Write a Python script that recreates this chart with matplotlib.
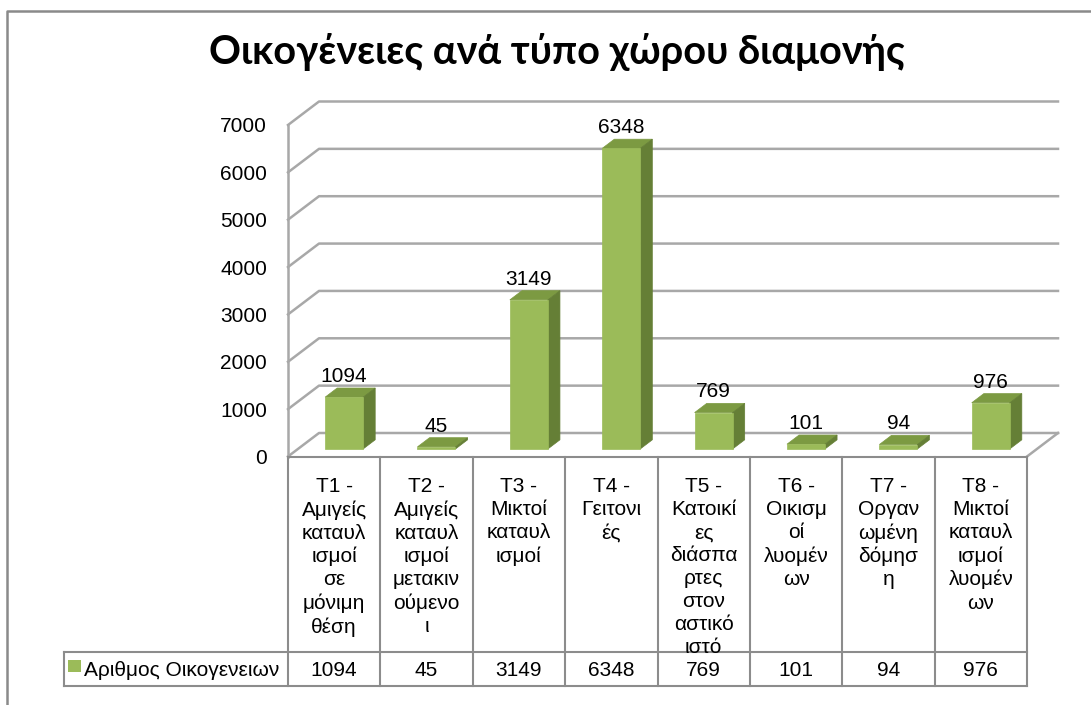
import matplotlib
matplotlib.use("Agg")
import matplotlib.pyplot as plt
import matplotlib.transforms as mtransforms
from matplotlib.patches import Polygon
from matplotlib.lines import Line2D

# ---------------- data ----------------
title = "Οικογένειες ανά τύπο χώρου διαμονής"
categories = [
    "T1 -\nΑμιγείς\nκαταυλ\nισμοί\nσε\nμόνιμη\nθέση",
    "T2 -\nΑμιγείς\nκαταυλ\nισμοί\nμετακιν\nούμενο\nι",
    "T3 -\nΜικτοί\nκαταυλ\nισμοί",
    "T4 -\nΓειτονι\nές",
    "T5 -\nΚατοικί\nες\nδιάσπα\nρτες\nστον\nαστικό\nιστό",
    "T6 -\nΟικισμ\nοί\nλυομέν\nων",
    "T7 -\nΟργαν\nωμένη\nδόμησ\nη",
    "T8 -\nΜικτοί\nκαταυλ\nισμοί\nλυομέν\nων",
]
series_name = "Αριθμος Οικογενειων"
values = [1094, 45, 3149, 6348, 769, 101, 94, 976]
y_ticks = [0, 1000, 2000, 3000, 4000, 5000, 6000, 7000]

# ---------------- style ----------------
W, H = 1091, 705
FONT = "Liberation Sans"
FS = 15
GRID = "#a8a8a8"
TABLE = "#8c8c8c"
FRONT = "#9bbb59"
TOP = "#7c9a42"
SIDE = "#657f36"

fig = plt.figure(figsize=(W / 100, H / 100), dpi=100)
fig.patch.set_facecolor("white")

def fx(px):
    return px / W

def fy(py):
    return 1 - py / H

# front plane of the 3D plot: x 0..8 -> px 288..1027 ; y 0..7000 -> px 456.5..125
X0, X1, Y0, Y1 = 288, 1027, 456.5, 125
ax = fig.add_axes([fx(X0), fy(Y0), fx(X1) - fx(X0), fy(Y1) - fy(Y0)])
n = len(values)
ax.set_xlim(0, n)
ax.set_ylim(0, 7000)
for s in ax.spines.values():
    s.set_visible(False)
ax.set_xticks([])
ax.set_yticks(y_ticks)
ax.set_yticklabels([str(t) for t in y_ticks], fontsize=FS, family=FONT)
ax.tick_params(axis="y", length=0, pad=15)
ax.set_facecolor("none")

# depth offsets in data units
px_x = n / (X1 - X0)
px_y = 7000 / (Y0 - Y1)
DX = 31 * px_x
DY = 23.5 * px_y

# gridlines on left wall and back wall
for t in y_ticks:
    ax.add_line(Line2D([0, DX, n + DX], [t, t + DY, t + DY], color=GRID, lw=1.8,
                       clip_on=False, zorder=1))
# left wall front edge
ax.add_line(Line2D([0, 0], [0, 7000], color=GRID, lw=1.8, clip_on=False, zorder=1))
# floor right edge
ax.add_line(Line2D([n, n + DX], [0, DY], color=GRID, lw=1.8, clip_on=False, zorder=1))

# bars
bw = 38 * px_x
f0, f1 = 0.32, 0.71
for i, v in enumerate(values):
    xl = i + 0.5 - bw / 2 + f0 * DX
    xr = xl + bw
    yb = f0 * DY
    ddx = (f1 - f0) * DX
    ddy = (f1 - f0) * DY
    top = Polygon([(xl, yb + v), (xr, yb + v), (xr + ddx, yb + v + ddy), (xl + ddx, yb + v + ddy)],
                  closed=True, facecolor=TOP, edgecolor=TOP, lw=0.5, clip_on=False, zorder=3)
    side = Polygon([(xr, yb), (xr + ddx, yb + ddy), (xr + ddx, yb + v + ddy), (xr, yb + v)],
                   closed=True, facecolor=SIDE, edgecolor=SIDE, lw=0.5, clip_on=False, zorder=3)
    front = Polygon([(xl, yb), (xr, yb), (xr, yb + v), (xl, yb + v)],
                    closed=True, facecolor=FRONT, edgecolor=FRONT, lw=0.5, clip_on=False, zorder=4)
    for p in (top, side, front):
        ax.add_patch(p)
    ax.text((xl + xr) / 2, yb + v + ddy + 2 * px_y, str(v), ha="center", va="bottom",
            fontsize=FS, family=FONT, zorder=5, clip_on=False)

# ---------------- data table ----------------
tr = mtransforms.blended_transform_factory(ax.transData, fig.transFigure)
ROW_TOP, ROW_MID, ROW_BOT = 456.5, 652, 686
ax.add_line(Line2D([0, n], [fy(ROW_TOP)] * 2, transform=tr, color=TABLE, lw=1.5, clip_on=False))
for i in range(n + 1):
    ax.add_line(Line2D([i, i], [fy(ROW_TOP), fy(ROW_BOT)], transform=tr, color=TABLE, lw=1.5,
                       clip_on=False))
LEG_X = (64 - X0) * px_x
for yy in (ROW_MID, ROW_BOT):
    ax.add_line(Line2D([LEG_X, n], [fy(yy)] * 2, transform=tr, color=TABLE, lw=1.5, clip_on=False))
ax.add_line(Line2D([LEG_X, LEG_X], [fy(ROW_MID), fy(ROW_BOT)], transform=tr, color=TABLE, lw=1.5,
                   clip_on=False))

for i, c in enumerate(categories):
    ax.text(i + 0.5, fy(477), c, transform=tr, ha="center", va="top", fontsize=FS,
            family=FONT, linespacing=1.27, clip_on=False)
    ax.text(i + 0.5, fy(670), str(values[i]), transform=tr, ha="center", va="center",
            fontsize=FS, family=FONT, clip_on=False)

# legend key in table
fig.patches.append(plt.Rectangle((fx(68), fy(672)), fx(13), fy(660) - fy(672), facecolor=FRONT,
                                 edgecolor="none", transform=fig.transFigure))
fig.text(fx(84), fy(670), series_name, ha="left", va="center", fontsize=FS, family=FONT)

# title
fig.text(fx(557), fy(52), title, ha="center", va="center", fontsize=28.5, fontweight="bold",
         family="Lato")

# outer chart border
fig.add_artist(Line2D([fx(6.5), fx(6.5), fx(W + 5)], [fy(H + 5), fy(11), fy(11)],
                      transform=fig.transFigure, color="#8a8a8a", lw=1.8))

fig.savefig("out.png", dpi=100, facecolor="white")
